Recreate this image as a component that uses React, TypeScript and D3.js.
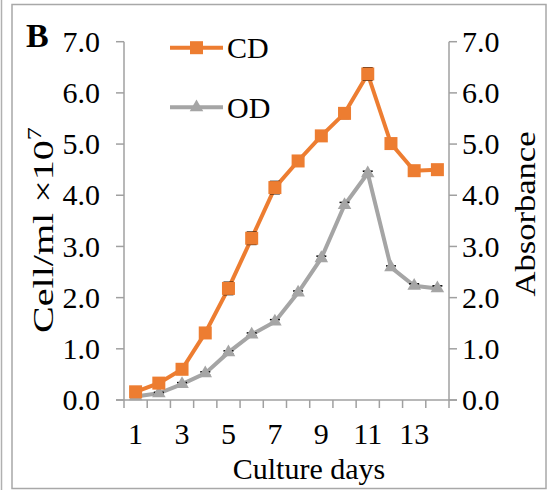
import React from 'react'
import * as d3 from 'd3'

const days = [1, 2, 3, 4, 5, 6, 7, 8, 9, 10, 11, 12, 13, 14]
const cdValues = [0.16, 0.33, 0.6, 1.31, 2.18, 3.16, 4.15, 4.67, 5.16, 5.6, 6.37, 5.01, 4.48, 4.5]
const cdErrors = [0.04, 0.04, 0.06, 0.1, 0.12, 0.12, 0.12, 0.08, 0.1, 0.1, 0.12, 0.08, 0.03, 0.03]
const odValues = [0.07, 0.13, 0.31, 0.52, 0.93, 1.28, 1.53, 2.1, 2.77, 3.81, 4.43, 2.59, 2.23, 2.18]
const odErrors = [0.02, 0.02, 0.03, 0.03, 0.03, 0.03, 0.04, 0.03, 0.04, 0.05, 0.04, 0.03, 0.04, 0.05]
const yTicks = [0, 1, 2, 3, 4, 5, 6, 7]
const xTickLabels = [1, 3, 5, 7, 9, 11, 13]

const width = 550
const height = 490
const left = 124
const right = 449
const top = 41.7
const bottom = 400

const ORANGE = '#ED7D31'
const GRAY = '#A5A5A5'
const AXIS = '#A0A0A0'
const FONT = '"Liberation Serif", "Times New Roman", serif'

export default function App() {
  const x = d3.scaleBand<number>().domain(days).range([left, right])
  const y = d3.scaleLinear().domain([0, 7]).range([bottom, top])
  const cx = (d: number) => (x(d) as number) + x.bandwidth() / 2

  const line = d3.line<number>()
    .x((_, i) => cx(days[i]))
    .y(v => y(v))

  const tri = d3.symbol().type(d3.symbolTriangle).size(80)()

  const errBars = (vals: number[], errs: number[]) =>
    vals.map((v, i) => {
      const px = cx(days[i])
      return (
        <g key={i} stroke="#000" strokeWidth={1.5}>
          <line x1={px} x2={px} y1={y(v + errs[i])} y2={y(v - errs[i])} />
          <line x1={px - 5} x2={px + 5} y1={y(v + errs[i])} y2={y(v + errs[i])} />
          <line x1={px - 5} x2={px + 5} y1={y(v - errs[i])} y2={y(v - errs[i])} />
        </g>
      )
    })

  return (
    <svg width={width} height={height} style={{position: 'absolute', left: 0, top: 0, background: '#fff'}}
      fontFamily={FONT}>
      {/* frame */}
      <line x1={1.5} x2={1.5} y1={0} y2={height} stroke="#B0B0B0" strokeWidth={1.5} />
      <rect x={12} y={4.5} width={534} height={484} fill="none" stroke="#A8A8A8" strokeWidth={1.5} />

      <text x={26} y={47} fontSize={34} fontWeight="bold">B</text>

      {/* axes */}
      <g stroke={AXIS} strokeWidth={1.5}>
        <line x1={left} x2={left} y1={top} y2={bottom} />
        <line x1={right} x2={right} y1={top} y2={bottom} />
        <line x1={left - 8} x2={right + 8} y1={bottom} y2={bottom} />
        {yTicks.map(t => (
          <g key={t}>
            <line x1={left - 8} x2={left} y1={y(t)} y2={y(t)} />
            <line x1={right} x2={right + 8} y1={y(t)} y2={y(t)} />
          </g>
        ))}
        {days.concat([15]).map((d, i) => {
          const px = left + i * x.step()
          return <line key={d} x1={px} x2={px} y1={bottom} y2={bottom + 8} />
        })}
      </g>

      {yTicks.map(t => (
        <g key={t} fontSize={30} fill="#000">
          <text x={100} y={y(t)} dy="0.34em" textAnchor="end">{t.toFixed(1)}</text>
          <text x={462} y={y(t)} dy="0.34em">{t.toFixed(1)}</text>
        </g>
      ))}
      {xTickLabels.map(d => (
        <text key={d} x={cx(d)} y={444} fontSize={30} textAnchor="middle">{d}</text>
      ))}

      <text x={309} y={479} fontSize={30} textAnchor="middle">Culture days</text>
      <text transform="translate(53,230) rotate(-90)" fontSize={29} textAnchor="middle"
        textLength={206} lengthAdjust="spacingAndGlyphs">
        Cell/ml ×10<tspan fontSize={19} dy={-12}>7</tspan>
      </text>
      <text transform="translate(535,214) rotate(-90)" fontSize={29} textAnchor="middle"
        textLength={165} lengthAdjust="spacingAndGlyphs">Absorbance</text>

      {/* series */}
      <path d={line(odValues) || ''} fill="none" stroke={GRAY} strokeWidth={4} />
      {errBars(odValues, odErrors)}
      {odValues.map((v, i) => (
        <path key={i} d={tri || ''} transform={`translate(${cx(days[i])},${y(v)})`} fill={GRAY} />
      ))}

      <path d={line(cdValues) || ''} fill="none" stroke={ORANGE} strokeWidth={4} />
      {errBars(cdValues, cdErrors)}
      {cdValues.map((v, i) => (
        <rect key={i} x={cx(days[i]) - 6.5} y={y(v) - 6.5} width={13} height={13} fill={ORANGE} />
      ))}

      {/* legend */}
      <line x1={170} x2={223} y1={47.7} y2={47.7} stroke={ORANGE} strokeWidth={4} />
      <rect x={190} y={41.2} width={13} height={13} fill={ORANGE} />
      <text x={227} y={47.7} dy="0.34em" fontSize={30}>CD</text>
      <line x1={170} x2={223} y1={107.3} y2={107.3} stroke={GRAY} strokeWidth={4} />
      <path d={tri || ''} transform="translate(196.5,107.3)" fill={GRAY} />
      <text x={227} y={107.3} dy="0.34em" fontSize={30}>OD</text>
    </svg>
  )
}
